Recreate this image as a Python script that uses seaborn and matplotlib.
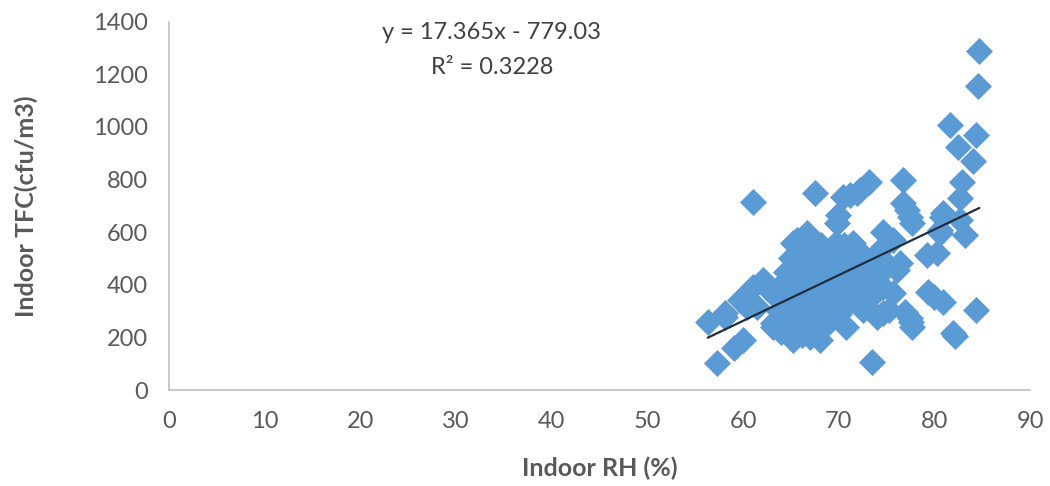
import pandas as pd
import numpy as np
import seaborn as sns
import matplotlib.pyplot as plt

# Indoor RH (%) vs indoor TFC (cfu/m3)
rh = [56.3, 57.3, 58.1, 58.1, 59.1, 60.0, 59.7, 60.4, 61.0, 61.0, 61.5, 62.1, 62.6, 63.1, 63.1,
      63.8, 63.5, 64.2, 64.5, 64.8, 65.0, 65.2, 65.2, 65.6, 65.5, 65.8, 66.0, 66.0, 66.2, 66.4,
      66.7, 66.7, 66.5, 66.8, 67.0, 67.0, 67.3, 67.5, 67.5, 67.8, 68.0, 68.2, 68.2, 68.4, 68.6,
      68.8, 69.0, 69.0, 69.3, 69.5, 69.8, 69.9, 69.7, 70.0, 70.2, 70.4, 70.5, 70.8, 70.8, 71.0,
      71.2, 71.3, 71.5, 71.8, 71.9, 72.0, 72.2, 72.3, 72.5, 72.6, 73.0, 73.2, 73.5, 73.3, 73.6,
      74.0, 74.0, 74.6, 74.6, 74.6, 74.6, 75.3, 75.0, 75.7, 75.7, 76.1, 76.4, 76.7, 76.7, 76.9,
      77.1, 77.4, 77.4, 77.7, 77.7, 77.6, 79.2, 79.3, 80.0, 80.3, 80.6, 80.6, 80.8, 80.9, 80.9,
      81.6, 81.9, 82.2, 82.5, 82.7, 82.7, 82.9, 83.2, 84.0, 84.3, 84.4, 84.6, 84.7,
      64.0, 64.5, 65.0, 65.5, 66.0, 66.5, 67.0, 67.2, 68.0, 68.5, 69.0, 69.5, 70.0, 70.5, 71.0,
      72.0, 72.8, 73.8, 65.0, 64.0, 66.3]
tfc = [258, 102, 279, 293, 160, 190, 343, 316, 393, 716, 316, 419, 385, 240, 255,
       300, 350, 330, 280, 390, 230, 190, 560, 571, 420, 350, 300, 260, 210, 470,
       598, 583, 520, 380, 330, 240, 430, 750, 280, 500, 190, 350, 550, 400, 300,
       460, 520, 260, 380, 430, 636, 667, 560, 480, 340, 735, 400, 241, 520, 450,
       743, 370, 560, 480, 750, 420, 762, 520, 305, 390, 460, 789, 107, 350, 500,
       278, 430, 293, 392, 545, 602, 305, 480, 571, 369, 457, 484, 800, 712, 298,
       686, 659, 274, 636, 240, 259, 514, 374, 354, 521, 598, 610, 659, 335, 674,
       1009, 217, 205, 922, 731, 648, 789, 590, 869, 971, 305, 1155, 1289,
       400, 450, 500, 300, 400, 350, 200, 550, 420, 250, 330, 480, 290, 550, 330,
       360, 430, 400, 250, 220, 230]

# trend line as printed on the chart
slope = 17.365
intercept = -779.03
r2 = 0.3228

df = pd.DataFrame({"rh": rh, "tfc": tfc})
xs = np.array([df["rh"].min(), df["rh"].max()])
trend = pd.DataFrame({"rh": xs, "tfc": slope * xs + intercept})

sns.set_style("white")
plt.rcParams["font.family"] = ["Lato", "DejaVu Sans"]

fig = plt.figure(figsize=(10.5, 4.86), dpi=100)
ax = fig.add_axes([0.161, 0.1975, 0.82, 0.758])

sns.scatterplot(data=df, x="rh", y="tfc", marker="D", s=190, color="#5b9bd5",
                linewidth=0, ax=ax, zorder=2)
sns.lineplot(data=trend, x="rh", y="tfc", color="#1f2d3d", linewidth=1.6, ax=ax, zorder=3)

ax.set_xlim(0, 90)
ax.set_ylim(0, 1400)
ax.set_xticks(range(0, 91, 10))
ax.set_yticks(range(0, 1401, 200))

grey = "#595959"
for side in ["top", "right"]:
    ax.spines[side].set_visible(False)
for side in ["left", "bottom"]:
    ax.spines[side].set_color("#bfbfbf")
    ax.spines[side].set_linewidth(1.2)
ax.tick_params(axis="both", length=6, width=1.2, color="#bfbfbf", labelcolor=grey,
               labelsize=17, direction="out", pad=9)

ax.set_xlabel("Indoor RH (%)", fontsize=18, fontweight="bold", color=grey, labelpad=18)
ax.set_ylabel("Indoor TFC(cfu/m3)", fontsize=18, fontweight="bold", color=grey, labelpad=40)

ax.text(0.375, 1.0, f"y = {slope}x - {-intercept:.2f}\nR² = {r2}", transform=ax.transAxes,
        ha="center", va="top", fontsize=17, color="#404040", linespacing=1.85)

fig.savefig("out.png", dpi=100)
